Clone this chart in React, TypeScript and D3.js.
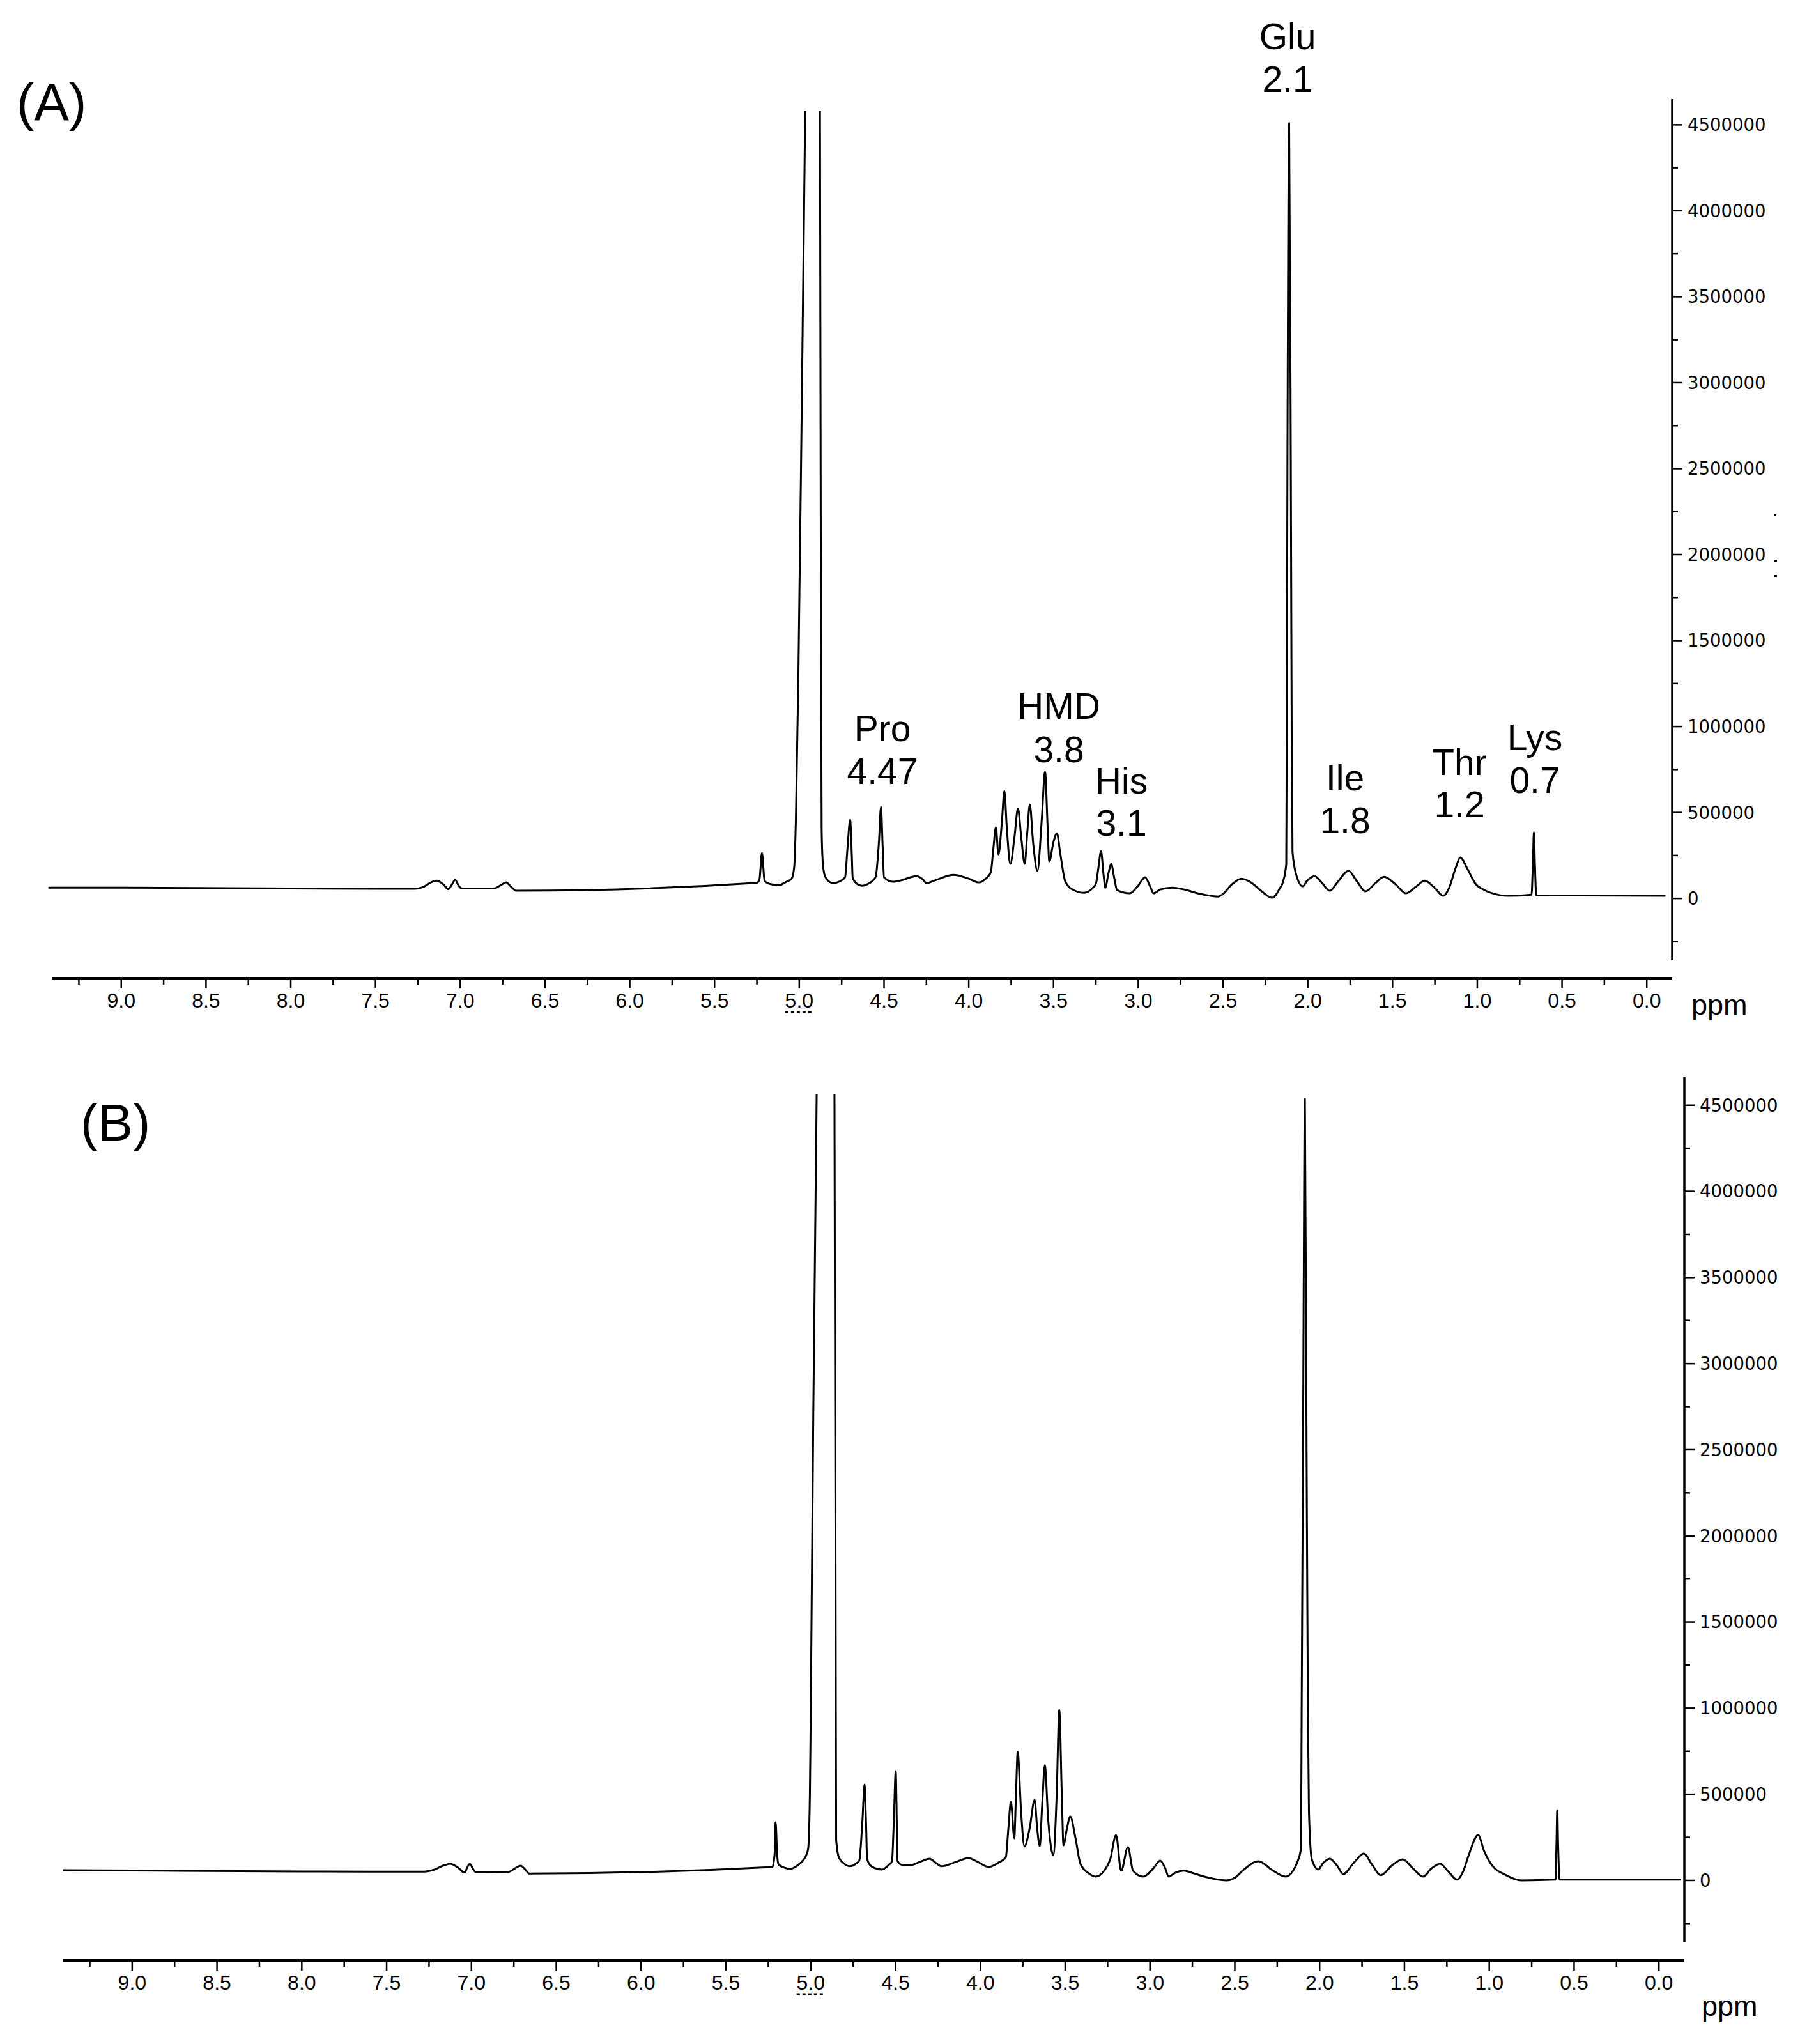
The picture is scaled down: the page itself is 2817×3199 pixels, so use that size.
import React from "react";
import * as d3 from "d3";

// ---------- data ----------
const PPM_DOMAIN: [number, number] = [9.41, -0.15];
const X_MAJOR_TICKS = [9.0, 8.5, 8.0, 7.5, 7.0, 6.5, 6.0, 5.5, 5.0, 4.5, 4.0, 3.5, 3.0, 2.5, 2.0, 1.5, 1.0, 0.5, 0.0];
const X_TICK_LABELS = ["9.0", "8.5", "8.0", "7.5", "7.0", "6.5", "6.0", "5.5", "5.0", "4.5", "4.0", "3.5", "3.0", "2.5", "2.0", "1.5", "1.0", "0.5", "0.0"];
const X_MINOR_TICKS = [9.25, 8.75, 8.25, 7.75, 7.25, 6.75, 6.25, 5.75, 5.25, 4.75, 4.25, 3.75, 3.25, 2.75, 2.25, 1.75, 1.25, 0.75, 0.25];
const Y_MAJOR_TICKS = [0, 500000, 1000000, 1500000, 2000000, 2500000, 3000000, 3500000, 4000000, 4500000];
const Y_TICK_LABELS = ["0", "500000", "1000000", "1500000", "2000000", "2500000", "3000000", "3500000", "4000000", "4500000"];
const Y_MINOR_TICKS = [-250000, 250000, 750000, 1250000, 1750000, 2250000, 2750000, 3250000, 3750000, 4250000];

// null marks the clipped (off-scale) top of the water signal
type Pt = [number, number | null];

const SPECTRUM_A: Pt[] = [
  [9.43, 63000], [8.96, 63000], [8.0, 58000], [7.27, 56000], [7.22, 66000], [7.17, 95000],
  [7.14, 104000], [7.1, 82000], [7.07, 54000], [7.05, 80000], [7.03, 108000], [7.01, 75000],
  [6.99, 58000], [6.8, 58000], [6.76, 78000], [6.73, 93000], [6.7, 68000], [6.67, 45000],
  [5.25, 91000], [5.235, 110000], [5.22, 264000], [5.205, 105000], [5.19, 90000], [5.15, 80000],
  [5.12, 78000], [5.08, 95000], [5.045, 115000], [5.03, 182000], [5.02, 457000], [5.005, 1320000],
  [4.985, 2900000], [4.965, 4580000], [4.92, null], [4.878, 4580000], [4.872, 1500000],
  [4.868, 400000], [4.862, 220000], [4.85, 134000], [4.82, 95000], [4.8, 89000], [4.76, 100000],
  [4.73, 123000], [4.715, 300000], [4.7, 457000], [4.69, 250000], [4.685, 120000], [4.66, 85000],
  [4.63, 74000], [4.6, 82000], [4.55, 123000], [4.53, 330000], [4.518, 532000], [4.508, 300000],
  [4.5, 123000], [4.45, 97000], [4.4, 105000], [4.31, 130000], [4.27, 110000], [4.25, 89000],
  [4.2, 105000], [4.09, 137000], [4.0, 115000], [3.94, 93000], [3.9, 115000], [3.87, 152000],
  [3.855, 290000], [3.84, 413000], [3.825, 256000], [3.805, 440000], [3.79, 625000],
  [3.775, 400000], [3.755, 201000], [3.73, 360000], [3.71, 524000], [3.69, 350000],
  [3.67, 201000], [3.655, 380000], [3.64, 546000], [3.62, 320000], [3.595, 160000],
  [3.57, 450000], [3.55, 736000], [3.535, 420000], [3.525, 216000], [3.5, 330000],
  [3.48, 379000], [3.46, 260000], [3.43, 97000], [3.38, 48000], [3.32, 33000], [3.27, 60000],
  [3.25, 85000], [3.235, 180000], [3.22, 275000], [3.205, 140000], [3.195, 63000],
  [3.175, 150000], [3.16, 201000], [3.14, 110000], [3.125, 48000], [3.05, 30000], [3.0, 75000],
  [2.96, 123000], [2.93, 70000], [2.91, 30000], [2.87, 52000], [2.8, 63000], [2.72, 50000],
  [2.65, 30000], [2.53, 11000], [2.5, 26000], [2.45, 80000], [2.39, 115000], [2.33, 90000],
  [2.27, 40000], [2.21, 4000], [2.165, 59000], [2.146, 97000], [2.127, 200000], [2.124, 1000000],
  [2.12, 2500000], [2.11, 4510000], [2.1, 2500000], [2.095, 1000000], [2.09, 271000],
  [2.067, 134000], [2.03, 71000], [2.003, 104000], [1.96, 130000], [1.92, 95000], [1.87, 45000],
  [1.82, 100000], [1.76, 160000], [1.71, 100000], [1.66, 41000], [1.6, 90000], [1.55, 126000],
  [1.48, 80000], [1.42, 30000], [1.36, 70000], [1.31, 104000], [1.25, 60000], [1.2, 15000],
  [1.167, 59000], [1.126, 182000], [1.1, 238000], [1.06, 175000], [1.01, 85000], [0.96, 50000],
  [0.91, 30000], [0.82, 15000], [0.68, 22000], [0.672, 200000], [0.666, 383000], [0.66, 200000],
  [0.652, 18000], [0.4, 17000], [-0.11, 15000],
];

const SPECTRUM_B: Pt[] = [
  [9.41, 59000], [9.0, 57000], [8.0, 52000], [7.28, 51000], [7.23, 59000], [7.16, 88000],
  [7.125, 96000], [7.08, 75000], [7.04, 45000], [7.025, 75000], [7.01, 96000], [6.99, 65000],
  [6.975, 48000], [6.78, 50000], [6.74, 72000], [6.71, 85000], [6.68, 60000], [6.66, 40000],
  [5.226, 78000], [5.213, 150000], [5.207, 337000], [5.198, 150000], [5.19, 93000],
  [5.15, 72000], [5.12, 67000], [5.08, 85000], [5.05, 111000], [5.025, 150000], [5.015, 185000],
  [5.005, 500000], [5.0, 976000], [4.985, 2700000], [4.965, 4566000], [4.91, null],
  [4.86, 4566000], [4.853, 1500000], [4.85, 234000], [4.834, 134000], [4.8, 95000],
  [4.77, 82000], [4.73, 100000], [4.714, 115000], [4.695, 350000], [4.683, 556000],
  [4.673, 300000], [4.668, 126000], [4.64, 80000], [4.58, 63000], [4.54, 90000], [4.521, 111000],
  [4.51, 350000], [4.499, 634000], [4.492, 300000], [4.488, 111000], [4.46, 90000], [4.41, 89000],
  [4.35, 110000], [4.3, 126000], [4.26, 100000], [4.23, 82000], [4.15, 105000], [4.07, 130000],
  [4.02, 110000], [3.95, 78000], [3.89, 105000], [3.85, 134000], [3.835, 300000], [3.82, 456000],
  [3.8, 245000], [3.79, 500000], [3.78, 746000], [3.76, 400000], [3.74, 197000], [3.71, 300000],
  [3.68, 467000], [3.665, 300000], [3.65, 200000], [3.635, 450000], [3.62, 668000],
  [3.6, 350000], [3.57, 148000], [3.55, 500000], [3.535, 990000], [3.52, 500000], [3.51, 204000],
  [3.49, 300000], [3.47, 371000], [3.44, 250000], [3.41, 96000], [3.36, 40000], [3.32, 22000],
  [3.27, 56000], [3.235, 120000], [3.2, 263000], [3.17, 56000], [3.13, 193000], [3.1, 56000],
  [3.04, 22000], [2.98, 70000], [2.94, 115000], [2.91, 70000], [2.89, 22000], [2.85, 45000],
  [2.8, 56000], [2.74, 40000], [2.68, 22000], [2.55, 0], [2.5, 15000], [2.45, 60000],
  [2.36, 111000], [2.28, 60000], [2.2, 22000], [2.16, 50000], [2.13, 110000], [2.11, 185000],
  [2.106, 976000], [2.098, 2500000], [2.087, 4536000], [2.077, 2500000], [2.069, 976000],
  [2.063, 400000], [2.046, 122000], [2.008, 63000], [1.98, 100000], [1.94, 126000],
  [1.9, 90000], [1.86, 37000], [1.8, 100000], [1.74, 156000], [1.69, 90000], [1.64, 30000],
  [1.57, 90000], [1.51, 122000], [1.45, 70000], [1.39, 22000], [1.34, 70000], [1.29, 96000],
  [1.24, 50000], [1.19, 4000], [1.155, 50000], [1.12, 150000], [1.066, 263000], [1.03, 170000],
  [0.99, 96000], [0.9, 30000], [0.81, 0], [0.61, 4000], [0.604, 200000], [0.599, 408000],
  [0.594, 200000], [0.585, 4000], [-0.13, 4000],
];

const ANNOTATION_NAMES = ["Pro", "HMD", "His", "Glu", "Ile", "Thr", "Lys"];
const ANNOTATION_SHIFTS = ["4.47", "3.8", "3.1", "2.1", "1.8", "1.2", "0.7"];

// ---------- layout ----------
const W = 2817;
const H = 3199;
const FONT = "'Liberation Sans', Arial, Helvetica, sans-serif";
const Y_FONT = "'DejaVu Sans', Verdana, sans-serif";

// pixel positions of the label pairs (centre x, baseline of name, baseline of shift)
const ANNOTATION_LAYOUT = [
  { x: 1381, y1: 1160, y2: 1227 },
  { x: 1657, y1: 1125, y2: 1193 },
  { x: 1755, y1: 1242, y2: 1308 },
  { x: 2015, y1: 77, y2: 144 },
  { x: 2105, y1: 1237, y2: 1304 },
  { x: 2284, y1: 1213, y2: 1279 },
  { x: 2402, y1: 1174, y2: 1241 },
];

interface PanelLayout {
  x0: number;
  x1: number;
  axisY: number;
  yAxisX: number;
  yTop: number;
  yBottom: number;
  yDomain: [number, number];
  ppmX: number;
  ppmY: number;
  tag: string;
  tagX: number;
  tagY: number;
}

const PANEL_A: PanelLayout = {
  x0: 81, x1: 2617, axisY: 1531, yAxisX: 2617, yTop: 155, yBottom: 1503,
  yDomain: [-360000, 4650000], ppmX: 2647, ppmY: 1588, tag: "(A)", tagX: 26, tagY: 188,
};
const PANEL_B: PanelLayout = {
  x0: 98, x1: 2636, axisY: 3068, yAxisX: 2636, yTop: 1685, yBottom: 3040,
  yDomain: [-360000, 4666000], ppmX: 2663, ppmY: 3155, tag: "(B)", tagX: 126, tagY: 1785,
};

function Panel({ L, data, labels }: { L: PanelLayout; data: Pt[]; labels: boolean }) {
  const x = d3.scaleLinear().domain(PPM_DOMAIN).range([L.x0, L.x1]);
  const y = d3.scaleLinear().domain(L.yDomain).range([L.yBottom, L.yTop]);
  const line = d3
    .line<Pt>()
    .defined((d) => d[1] !== null)
    .x((d) => x(d[0]))
    .y((d) => y(d[1] as number))
    .curve(d3.curveMonotoneX);
  const path = line(data) || "";

  return (
    <g>
      {/* spectrum */}
      <path d={path} fill="none" stroke="#000" strokeWidth={3} strokeLinejoin="round" />

      {/* x axis */}
      <line x1={L.x0} x2={L.x1} y1={L.axisY} y2={L.axisY} stroke="#000" strokeWidth={4} />
      {X_MAJOR_TICKS.map((t, i) => (
        <g key={"xm" + i}>
          <line x1={x(t)} x2={x(t)} y1={L.axisY} y2={L.axisY + 16} stroke="#000" strokeWidth={2.5} />
          <text x={x(t)} y={L.axisY + 46} fontSize={32} fontFamily={FONT} textAnchor="middle" fill="#000">
            {X_TICK_LABELS[i]}
          </text>
        </g>
      ))}
      {X_MINOR_TICKS.map((t, i) => (
        <line key={"xn" + i} x1={x(t)} x2={x(t)} y1={L.axisY} y2={L.axisY + 10} stroke="#000" strokeWidth={2.5} />
      ))}
      {/* small residual mark below 5.0 */}
      <line x1={x(5.0) - 22} x2={x(5.0) + 22} y1={L.axisY + 53} y2={L.axisY + 53} stroke="#000" strokeWidth={3} strokeDasharray="5 4" />
      <text x={L.ppmX} y={L.ppmY} fontSize={45} fontFamily={FONT} fill="#000">ppm</text>

      {/* y axis */}
      <line x1={L.yAxisX} x2={L.yAxisX} y1={L.yTop} y2={L.yBottom} stroke="#000" strokeWidth={3.5} />
      {Y_MAJOR_TICKS.map((t, i) => (
        <g key={"ym" + i}>
          <line x1={L.yAxisX} x2={L.yAxisX + 16} y1={y(t)} y2={y(t)} stroke="#000" strokeWidth={2.5} />
          <text x={L.yAxisX + 24} y={y(t)} dy="0.36em" fontSize={27.5} fontFamily={Y_FONT} fill="#000">
            {Y_TICK_LABELS[i]}
          </text>
        </g>
      ))}
      {Y_MINOR_TICKS.map((t, i) => (
        <line key={"yn" + i} x1={L.yAxisX} x2={L.yAxisX + 9} y1={y(t)} y2={y(t)} stroke="#000" strokeWidth={2.5} />
      ))}

      {/* panel tag */}
      <text x={L.tagX} y={L.tagY} fontSize={82} fontFamily={FONT} fill="#000">{L.tag}</text>

      {labels &&
        ANNOTATION_NAMES.map((n, i) => (
          <g key={"an" + i}>
            <text x={ANNOTATION_LAYOUT[i].x} y={ANNOTATION_LAYOUT[i].y1} fontSize={57} fontFamily={FONT} textAnchor="middle" fill="#000">
              {n}
            </text>
            <text x={ANNOTATION_LAYOUT[i].x} y={ANNOTATION_LAYOUT[i].y2} fontSize={57} fontFamily={FONT} textAnchor="middle" fill="#000">
              {ANNOTATION_SHIFTS[i]}
            </text>
          </g>
        ))}
    </g>
  );
}

export default function App() {
  return (
    <svg
      width={W}
      height={H}
      viewBox={`0 0 ${W} ${H}`}
      style={{ position: "absolute", left: 0, top: 0, display: "block", background: "#fff" }}
    >
      <rect x={0} y={0} width={W} height={H} fill="#fff" />
      <Panel L={PANEL_A} data={SPECTRUM_A} labels={true} />
      <Panel L={PANEL_B} data={SPECTRUM_B} labels={false} />
      {/* scan specks right of panel A's axis */}
      <rect x={2776} y={805} width={4} height={3} fill="#000" />
      <rect x={2776} y={876} width={5} height={3} fill="#000" />
      <rect x={2776} y={900} width={5} height={3} fill="#000" />
    </svg>
  );
}
